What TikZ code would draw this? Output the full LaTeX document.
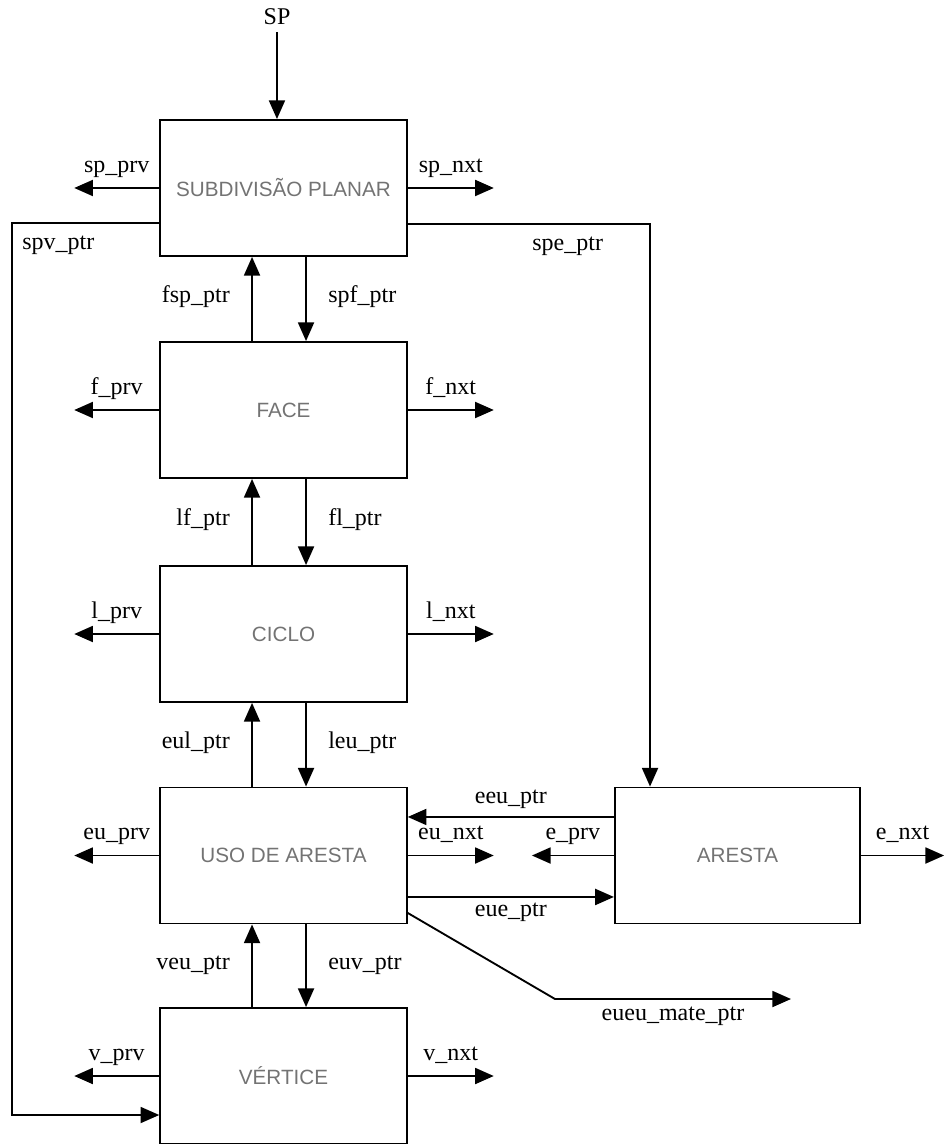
\documentclass[tikz,border=0pt]{standalone}
\usepackage{fontspec}
\setmainfont{Liberation Serif}
\newfontfamily\boxfont{Liberation Sans}
\usetikzlibrary{arrows.meta, positioning}

\begin{document}
\begin{tikzpicture}[x=0.75pt, y=-0.75pt, line width=1.4pt,
    >={Triangle[length=14pt, width=12pt]},
    record/.style={draw, rectangle, minimum width=185pt, minimum height=102pt,
        inner sep=0pt, text=black!55, font=\boxfont\fontsize{15.5}{17}\selectfont},
    lbl/.style={font=\fontsize{18}{21}\selectfont, inner sep=3pt,
        text height=0.72em, text depth=0.22em}]
    \useasboundingbox (0,0) rectangle (943,1144);

    % Records
    \node[record] (sp) at (283.5,188) {SUBDIVISÃO PLANAR};
    \node[record] (face) at (283.5,410) {FACE};
    \node[record] (ciclo) at (283.5,634) {CICLO};
    \node[record] (uso) at (283.5,855.5) {USO DE ARESTA};
    \node[record] (vert) at (283.5,1076) {VÉRTICE};
    \node[record, minimum width=184pt] (aresta) at (737.5,855.5) {ARESTA};

    % Entry pointer
    \node[lbl] (sptitle) at (277,21) {SP};
    \draw[->] (sptitle.south) -- ([xshift=-4.9pt]sp.north);

    % prv / nxt pointers
    \draw[->] (sp.west) -- node[lbl, above=6pt] {sp\_prv} ++(-85,0);
    \draw[->] (sp.east) -- node[lbl, above=6pt] {sp\_nxt} ++(86,0);
    \draw[->] (face.west) -- node[lbl, above=6pt] {f\_prv} ++(-85,0);
    \draw[->] (face.east) -- node[lbl, above=6pt] {f\_nxt} ++(86,0);
    \draw[->] (ciclo.west) -- node[lbl, above=6pt] {l\_prv} ++(-85,0);
    \draw[->] (ciclo.east) -- node[lbl, above=6pt] {l\_nxt} ++(86,0);
    \draw[->] (uso.west) -- node[lbl, above=6pt] {eu\_prv} ++(-85,0);
    \draw[->] (uso.east) -- node[lbl, above=6pt] {eu\_nxt} ++(86,0);
    \draw[->] (vert.west) -- node[lbl, above=6pt] {v\_prv} ++(-85,0);
    \draw[->] (vert.east) -- node[lbl, above=6pt] {v\_nxt} ++(86,0);
    \draw[->] (aresta.west) -- node[lbl, above=6pt] {e\_prv} ++(-82,0);
    \draw[->] (aresta.east) -- node[lbl, above=6pt] {e\_nxt} ++(83,0);

    % Up / down pointers
    \draw[->] ([xshift=-23.6pt]face.north) -- node[lbl, left=13pt] {fsp\_ptr} ([xshift=-23.6pt]sp.south);
    \draw[->] ([xshift=16.9pt]sp.south) -- node[lbl, right=13pt] {spf\_ptr} ([xshift=16.9pt]face.north);
    \draw[->] ([xshift=-23.6pt]ciclo.north) -- node[lbl, left=13pt] {lf\_ptr} ([xshift=-23.6pt]face.south);
    \draw[->] ([xshift=16.9pt]face.south) -- node[lbl, right=13pt] {fl\_ptr} ([xshift=16.9pt]ciclo.north);
    \draw[->] ([xshift=-23.6pt]uso.north) -- node[lbl, left=13pt] {eul\_ptr} ([xshift=-23.6pt]ciclo.south);
    \draw[->] ([xshift=16.9pt]ciclo.south) -- node[lbl, right=13pt] {leu\_ptr} ([xshift=16.9pt]uso.north);
    \draw[->] ([xshift=-23.6pt]vert.north) -- node[lbl, left=13pt] {veu\_ptr} ([xshift=-23.6pt]uso.south);
    \draw[->] ([xshift=16.9pt]uso.south) -- node[lbl, right=13pt] {euv\_ptr} ([xshift=16.9pt]vert.north);

    % Long pointers
    \coordinate (lrail) at (12,1115);
    \draw[->] ([yshift=-26.25pt]sp.west) -| node[lbl, pos=0.5, below right, xshift=4pt, yshift=-9pt] {spv\_ptr} (lrail)
        -- ([yshift=-29.25pt]vert.west);
    \draw[->] ([yshift=-27pt]sp.east) -| node[lbl, pos=0.33, below=9pt] {spe\_ptr} ([xshift=-65.6pt]aresta.north);
    \draw[->] ([yshift=28.9pt]aresta.west) -- node[lbl, above=4pt] {eeu\_ptr} ([yshift=28.9pt]uso.east);
    \draw[->] ([yshift=-31.1pt]uso.east) -- node[lbl, below=4pt] {eue\_ptr} ([yshift=-31.1pt]aresta.west);
    \coordinate (mate) at (791,999);
    \draw[->] ([yshift=-43.1pt]uso.east) -- (555,999) -- node[lbl, below=5pt] {eueu\_mate\_ptr} (mate);
\end{tikzpicture}
\end{document}
